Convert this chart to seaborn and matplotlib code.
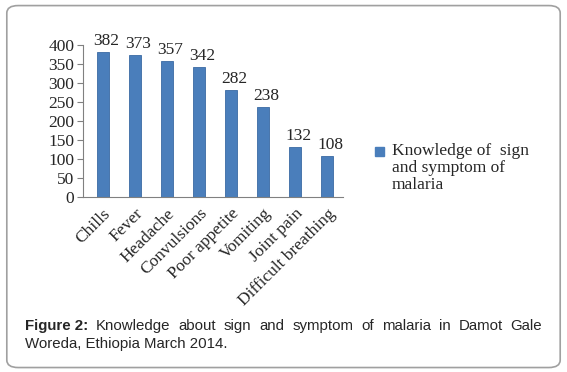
import matplotlib
matplotlib.use("Agg")
import matplotlib.pyplot as plt
from matplotlib.patches import FancyBboxPatch, Rectangle
import numpy as np
import pandas as pd
import seaborn as sns

symptoms = ["Chills", "Fever", "Headache", "Convulsions", "Poor appetite",
            "Vomiting", "Joint pain", "Difficult breathing"]
counts = [382, 373, 357, 342, 282, 238, 132, 108]
y_ticks = [0, 50, 100, 150, 200, 250, 300, 350, 400]
series_lines = ["Knowledge of  sign", "and symptom of", "malaria"]
caption_bold = "Figure 2:"
caption_line1 = "Knowledge about sign and symptom of malaria in Damot Gale"
caption_line2 = "Woreda, Ethiopia March 2014."

BAR = "#4a7ebb"
SANS = ["Liberation Sans", "DejaVu Sans"]

sns.set_theme(style="white")
plt.rcParams["font.family"] = ["Liberation Serif", "DejaVu Serif"]

df = pd.DataFrame({"symptom": symptoms, "count": counts})

W, H = 567, 372
fig = plt.figure(figsize=(W / 100, H / 100), dpi=100)
ax = fig.add_axes([0.146, 0.470, 0.459, 0.409])

sns.barplot(data=df, x="symptom", y="count", color=BAR, width=0.38,
            edgecolor="#3a6aa3", linewidth=0.6, saturation=1, ax=ax)

for i, v in enumerate(counts):
    ax.text(i + 0.1, v + 8, str(v), ha="center", va="bottom", fontsize=12.5)

ax.set_ylim(0, 400)
ax.set_xlim(-0.62, len(symptoms) - 0.5)
ax.set_yticks(y_ticks)
ax.set_yticklabels([str(t) for t in y_ticks], fontsize=12.5)
ax.set_xticks(range(len(symptoms)))
ax.set_xticklabels(symptoms, rotation=45, ha="right", rotation_mode="anchor",
                   fontsize=12.5)
ax.set_xticks(np.arange(-0.5, len(symptoms), 1), minor=True)
ax.tick_params(axis="x", which="major", length=0, pad=6)
ax.tick_params(axis="x", which="minor", length=4, color="#808080", width=0.8)
ax.tick_params(axis="y", length=4, color="#808080", width=0.8, pad=2,
               left=True)
ax.set_xlabel("")
ax.set_ylabel("")
for side in ["top", "right"]:
    ax.spines[side].set_visible(False)
for side in ["left", "bottom"]:
    ax.spines[side].set_color("#808080")
    ax.spines[side].set_linewidth(0.8)

# legend (handle aligned with first line)
fig.patches.append(Rectangle((375 / W, 1 - 156 / H), 9 / W, 9 / H,
                             transform=fig.transFigure, color=BAR))
for k, line in enumerate(series_lines):
    fig.text(392 / W, 1 - (151 + 17 * k) / H, line, fontsize=12.5,
             va="center", ha="left")

# caption, first line justified to the right margin
fig.canvas.draw()
r = fig.canvas.get_renderer()
x0, x1 = 25, 542
y1 = 1 - 330 / H
y2 = 1 - 348 / H
pieces = [(caption_bold, "bold")] + [(w, "normal") for w in caption_line1.split()]
texts = []
total = 0
for s, wgt in pieces:
    t = fig.text(0, y1, s, fontsize=10.8, fontweight=wgt, family=SANS,
                 va="baseline")
    w = t.get_window_extent(renderer=r).width
    texts.append((t, w))
    total += w
gap = (x1 - x0 - total) / (len(pieces) - 1)
x = x0
for t, w in texts:
    t.set_x(x / W)
    x += w + gap
fig.text(x0 / W, y2, caption_line2, fontsize=10.8, family=SANS, va="baseline")

# rounded frame
frame = FancyBboxPatch((0.012, 0.012), 0.976, 0.973,
                       boxstyle="round,pad=0,rounding_size=0.02",
                       transform=fig.transFigure, fill=False,
                       edgecolor="#a0a0a0", linewidth=1.2)
fig.patches.append(frame)

fig.savefig("out.png", dpi=100)
